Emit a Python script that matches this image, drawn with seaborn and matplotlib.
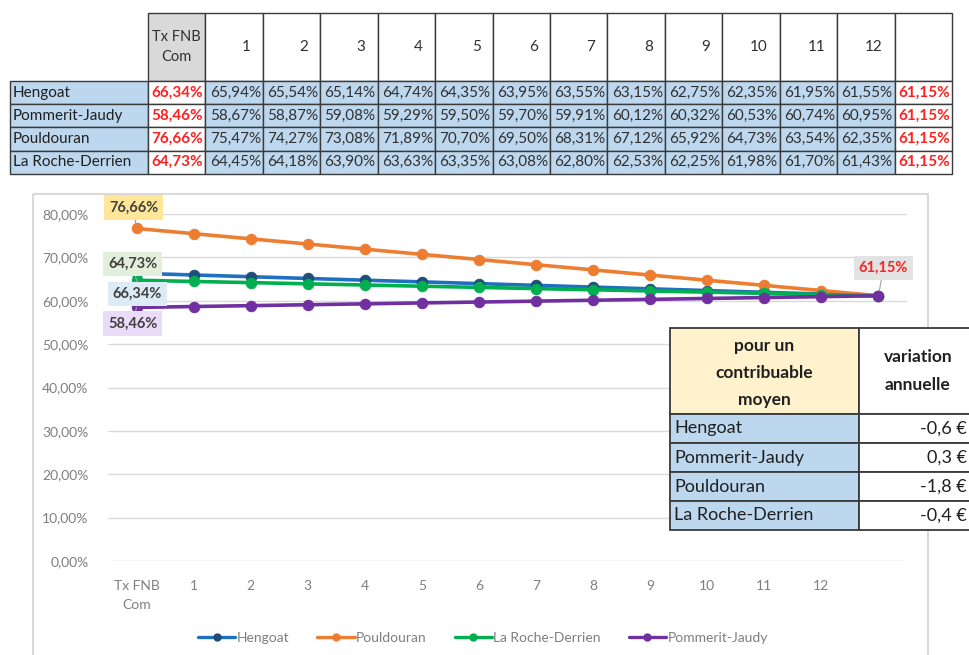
import numpy as np
import pandas as pd
import matplotlib
matplotlib.use("Agg")
import matplotlib.pyplot as plt
from matplotlib.patches import Rectangle
from matplotlib.lines import Line2D
import seaborn as sns

# values (percent)
PERIODS = ["Tx FNB\nCom", "1", "2", "3", "4", "5", "6", "7", "8", "9", "10", "11", "12", ""]
HENGOAT = [66.34, 65.94, 65.54, 65.14, 64.74, 64.35, 63.95, 63.55, 63.15, 62.75, 62.35, 61.95, 61.55, 61.15]
POMMERIT = [58.46, 58.67, 58.87, 59.08, 59.29, 59.50, 59.70, 59.91, 60.12, 60.32, 60.53, 60.74, 60.95, 61.15]
POULDOURAN = [76.66, 75.47, 74.27, 73.08, 71.89, 70.70, 69.50, 68.31, 67.12, 65.92, 64.73, 63.54, 62.35, 61.15]
ROCHE = [64.73, 64.45, 64.18, 63.90, 63.63, 63.35, 63.08, 62.80, 62.53, 62.25, 61.98, 61.70, 61.43, 61.15]

TABLE_ROWS = ["Hengoat", "Pommerit-Jaudy", "Pouldouran", "La Roche-Derrien"]
VARIATION = [-0.6, 0.3, -1.8, -0.4]  # euros per year, same order as TABLE_ROWS

SERIES = {
    "Hengoat": HENGOAT,
    "Pouldouran": POULDOURAN,
    "La Roche-Derrien": ROCHE,
    "Pommerit-Jaudy": POMMERIT,
}
TABLE_DATA = {"Hengoat": HENGOAT, "Pommerit-Jaudy": POMMERIT,
              "Pouldouran": POULDOURAN, "La Roche-Derrien": ROCHE}

COLORS = {
    "Hengoat": "#1F70C1",
    "Pouldouran": "#ED7D31",
    "La Roche-Derrien": "#00B050",
    "Pommerit-Jaudy": "#7030A0",
}
MARKER_COLORS = {"Hengoat": "#1F4E79"}

# label box colour + offset (pixels) from the point
START_LABELS = {
    "Pouldouran": ("#FFE699", (-3, 21)),
    "La Roche-Derrien": ("#E2EFDA", (-4, 16)),
    "Hengoat": ("#DDEBF7", (1, -21)),
    "Pommerit-Jaudy": ("#EADCF8", (-4, -16)),
}

BLUE_CELL = "#BDD7EE"
RED = "#FF2020"
BORDER = "#3A3A3A"


def pct(v):
    return f"{v:.2f}%".replace(".", ",")


sns.set_style("white")
plt.rcParams["font.family"] = ["Lato", "DejaVu Sans"]

W, H = 970, 655
fig = plt.figure(figsize=(W / 100, H / 100), dpi=100)

# ---- line chart ----
ax = fig.add_axes([108 / W, 1 - 561 / H, 799 / W, 347 / H], zorder=1)
long = pd.DataFrame([
    {"commune": name, "x": i, "value": v}
    for name, vals in SERIES.items() for i, v in enumerate(vals)
])
for name in SERIES:
    sub = long[long["commune"] == name]
    sns.lineplot(data=sub, x="x", y="value", ax=ax, color=COLORS[name],
                 marker="o", markersize=7.5, linewidth=2.6, label=name,
                 markeredgecolor=MARKER_COLORS.get(name, COLORS[name]),
                 markerfacecolor=MARKER_COLORS.get(name, COLORS[name]),
                 clip_on=False)

ax.set_xlim(-0.5, len(PERIODS) - 0.5)
ax.set_ylim(0, 80)
ax.set_yticks(np.arange(0, 81, 10))
ax.set_yticklabels([pct(t) for t in np.arange(0, 81, 10)])
ax.set_xticks(range(len(PERIODS)))
ax.set_xticklabels(PERIODS, linespacing=1.7, va="top")
ax.grid(axis="y", color="#D9D9D9", linewidth=1)
ax.set_axisbelow(True)
for s in ax.spines.values():
    s.set_visible(False)
ax.tick_params(length=0, colors="#7F7F7F", labelsize=10)
ax.tick_params(axis="y", pad=14)
ax.tick_params(axis="x", pad=14)
ax.set_xlabel("")
ax.set_ylabel("")

# data labels
for name, (bg, off) in START_LABELS.items():
    v = SERIES[name][0]
    ax.annotate(pct(v), xy=(0, v), xytext=off, textcoords="offset pixels",
                ha="center", va="center", fontsize=10.5, fontweight="bold",
                color="#404040", annotation_clip=False,
                bbox=dict(boxstyle="square,pad=0.35", fc=bg, ec="none"),
                arrowprops=dict(arrowstyle="-", color="#A0A0A0", lw=0.8,
                                shrinkA=0, shrinkB=4))
last_x = len(HENGOAT) - 1
ax.annotate(pct(HENGOAT[-1]), xy=(last_x, HENGOAT[-1]), xytext=(5, 28),
            textcoords="offset pixels", ha="center", va="center",
            fontsize=10.5, fontweight="bold", color=RED, annotation_clip=False,
            bbox=dict(boxstyle="square,pad=0.35", fc="#E3E3E3", ec="none"),
            arrowprops=dict(arrowstyle="-", color="#A0A0A0", lw=0.8,
                            shrinkA=0, shrinkB=4))

# legend with smaller markers than the plot
handles, labels = ax.get_legend_handles_labels()
ax.get_legend().remove()
proxies = [Line2D([], [], color=h.get_color(), linewidth=2.4, marker="o",
                  markersize=5, markerfacecolor=h.get_markerfacecolor(),
                  markeredgecolor=h.get_markeredgecolor())
           for h in handles]
leg = fig.legend(proxies, labels, loc="center", bbox_to_anchor=(483 / W, 1 - 638 / H),
                 ncol=4, frameon=False, handlelength=2.7, handletextpad=0.1,
                 columnspacing=2.0, fontsize=10)
for t in leg.get_texts():
    t.set_color("#7F7F7F")

# ---- overlay: tables and chart frame (pixel coordinates) ----
ov = fig.add_axes([0, 0, 1, 1], zorder=3)
ov.set_xlim(0, W)
ov.set_ylim(H, 0)
ov.axis("off")
ov.patch.set_alpha(0)

ov.add_patch(Rectangle((33, 194), 895, 520, fc="none", ec="#D9D9D9", lw=1.5))


def cell(x0, y0, w, h, fc, lw=1.0):
    ov.add_patch(Rectangle((x0, y0), w, h, fc=fc, ec=BORDER, lw=lw))


# top table
cols = np.linspace(148, 952, len(PERIODS) + 1)
head_top, head_bot = 13, 81
row_h = 23.2
for j, lab in enumerate(PERIODS):
    x0, x1 = cols[j], cols[j + 1]
    cell(x0, head_top, x1 - x0, head_bot - head_top, "#D9D9D9" if j == 0 else "white")
    if j == 0:
        ov.text((x0 + x1) / 2, (head_top + head_bot) / 2, lab, ha="center", va="center",
                fontsize=10.5, color="#303030", linespacing=1.5)
    else:
        ov.text(x1 - 12, (head_top + head_bot) / 2, lab, ha="right", va="center",
                fontsize=11, color="#303030")

for i, name in enumerate(TABLE_ROWS):
    y0 = head_bot + i * row_h
    cell(10, y0, cols[0] - 10, row_h, BLUE_CELL)
    ov.text(13, y0 + row_h / 2, name, ha="left", va="center", fontsize=11, color="#202020")
    vals = TABLE_DATA[name]
    for j, v in enumerate(vals):
        x0, x1 = cols[j], cols[j + 1]
        edge = j == 0 or j == len(vals) - 1
        cell(x0, y0, x1 - x0, row_h, "white" if edge else BLUE_CELL)
        ov.text(x1 - 2, y0 + row_h / 2, pct(v), ha="right", va="center",
                fontsize=11, color=RED if edge else "#303030",
                fontweight="bold" if edge else "normal")

# inset table
ix0, ix1, ix2 = 670, 859, 1000
ih_top, ih_bot, irow = 328, 414, 29
cell(ix0, ih_top, ix1 - ix0, ih_bot - ih_top, "#FFF2CC", lw=1.3)
cell(ix1, ih_top, ix2 - ix1, ih_bot - ih_top, "white", lw=1.3)
ov.text((ix0 + ix1) / 2, (ih_top + ih_bot) / 2 + 2, "pour un\ncontribuable\nmoyen",
        ha="center", va="center", fontsize=12.5, fontweight="bold",
        color="#202020", linespacing=1.85)
ov.text(918, (ih_top + ih_bot) / 2, "variation\nannuelle", ha="center", va="center",
        fontsize=12.5, fontweight="bold", color="#202020", linespacing=1.85)
for i, (name, v) in enumerate(zip(TABLE_ROWS, VARIATION)):
    y0 = ih_bot + i * irow
    cell(ix0, y0, ix1 - ix0, irow, BLUE_CELL, lw=1.3)
    cell(ix1, y0, ix2 - ix1, irow, "white", lw=1.3)
    ov.text(ix0 + 4, y0 + irow / 2, name, ha="left", va="center", fontsize=13, color="#202020")
    ov.text(967, y0 + irow / 2, f"{v:.1f} €".replace(".", ","), ha="right", va="center",
            fontsize=13, color="#202020")

fig.savefig("out.png", dpi=100, facecolor="white")
